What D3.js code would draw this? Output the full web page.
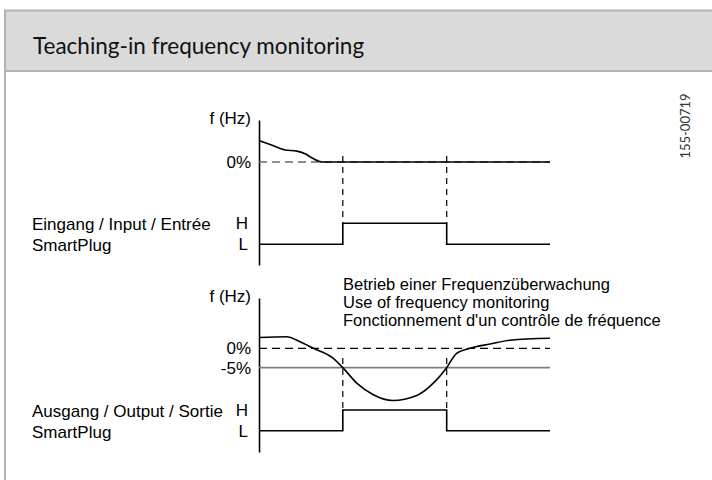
<!DOCTYPE html>
<html><head><meta charset="utf-8">
<script src="https://cdn.jsdelivr.net/npm/d3@7"></script>
<style>body{margin:0;background:#fff}svg{display:block}text{font-family:"Liberation Sans",Arial,sans-serif}</style>
</head><body><svg id="c" width="712" height="480"></svg>
<script>
// ---- data ----
const title = "Teaching-in frequency monitoring";
const docId = "155-00719";
const timeDomain = [0, 100];
const switchOn = 28.8, switchOff = 64.5;
const inputCurveT = [0, 3.8, 8.9, 13, 15.8, 18.1, 20.4, 21.8, 100];
const inputCurveV = [5.5, 4.5, 3.1, 2.8, 2.1, 1.1, 0.25, 0, 0];
const outputCurveT = [0, 9.5, 14.1, 18.7, 25.0, 28.8, 33.6, 39.3, 45.9, 54.2, 59.9, 64.5, 67.9, 72.5, 79.4, 86.3, 100];
const outputCurveV = [2.8, 3.0, 1.7, 0, -2.3, -5.0, -9.0, -12.0, -13.5, -12.2, -9.0, -5.0, -1.3, 0, 1.1, 2.1, 2.6];
const levelLabels = ["H", "L"];
const inputSignalT = [0, switchOn, switchOn, switchOff, switchOff, 100];
const inputSignalL = ["L", "L", "H", "H", "L", "L"];
const outputSignalL = ["L", "L", "H", "H", "L", "L"];
const topTicks = [0];
const bottomTicks = [0, -5];
const inputLabel = ["Eingang / Input / Entrée", "SmartPlug"];
const outputLabel = ["Ausgang / Output / Sortie", "SmartPlug"];
const noteLines = ["Betrieb einer Frequenzüberwachung", "Use of frequency monitoring", "Fonctionnement d'un contrôle de fréquence"];

const FS = 17;
const svg = d3.select("#c");
// frame
svg.append("rect").attr("x", 5).attr("y", 10).attr("width", 720).attr("height", 61).attr("fill", "#dadada");
svg.append("line").attr("x1", 4).attr("x2", 712).attr("y1", 10.5).attr("y2", 10.5).attr("stroke", "#b3b3b3").attr("stroke-width", 2);
svg.append("line").attr("x1", 4).attr("x2", 712).attr("y1", 71).attr("y2", 71).attr("stroke", "#b3b3b3").attr("stroke-width", 2);
svg.append("line").attr("x1", 5).attr("x2", 5).attr("y1", 10).attr("y2", 480).attr("stroke", "#b3b3b3").attr("stroke-width", 2);
svg.append("text").attr("x", 33).attr("y", 54).attr("font-size", 22.5).style("font-family", "Lato, 'Open Sans', sans-serif").attr("fill", "#111").text(title);
svg.append("text").attr("transform", "translate(690,126) rotate(-90)").attr("text-anchor", "middle").attr("font-size", 13).style("font-family", "Lato, sans-serif").attr("fill", "#333").text(docId);

const x = d3.scaleLinear().domain(timeDomain).range([259, 550]);

function panel(cfg) {
  const g = svg.append("g");
  const yF = d3.scaleLinear().domain(cfg.fDomain).range(cfg.fRange);
  const yS = d3.scalePoint().domain(levelLabels).range(cfg.sRange);
  // axis line
  const ax = g.append("g").attr("transform", "translate(259,0)").call(d3.axisLeft(yF).tickValues([]).tickSizeOuter(0));
  ax.select(".domain").attr("stroke", "#000").attr("stroke-width", 1.6);
  // frequency ticks labels
  const fa = g.append("g").attr("transform", "translate(259,0)").call(d3.axisLeft(yF).tickValues(cfg.ticks).tickSize(0).tickPadding(8).tickFormat(d => d + "%"));
  fa.select(".domain").remove();
  fa.selectAll("text").attr("font-size", FS).style("font-family", "'Liberation Sans',Arial,sans-serif").attr("fill", "#000");
  // level labels
  const la = g.append("g").attr("transform", "translate(259,0)").call(d3.axisLeft(yS).tickSize(0).tickPadding(11));
  la.select(".domain").remove();
  la.selectAll("text").attr("font-size", FS).style("font-family", "'Liberation Sans',Arial,sans-serif").attr("fill", "#000");
  // f (Hz)
  g.append("text").attr("x", 251).attr("y", cfg.fRange[1] + 4).attr("text-anchor", "end").attr("font-size", FS).text("f (Hz)");
  // side label
  g.selectAll(".side").data(cfg.side).join("text").attr("x", 32).attr("y", (d, i) => yS(levelLabels[i]) + 7).attr("font-size", FS).text(d => d);
  // reference lines
  if (cfg.minus5) {
    g.append("line").attr("x1", x(timeDomain[0])).attr("x2", x(timeDomain[1])).attr("y1", yF(-5)).attr("y2", yF(-5)).attr("stroke", "#808080").attr("stroke-width", 1.8);
  }
  g.append("line").attr("x1", x(timeDomain[0])).attr("x2", x(timeDomain[1])).attr("y1", yF(0)).attr("y2", yF(0)).attr("stroke", cfg.zeroColor).attr("stroke-width", 1.3).attr("stroke-dasharray", "8,5");
  // vertical dashed markers
  g.selectAll(".vm").data([switchOn, switchOff]).join("line").attr("x1", d => x(d)).attr("x2", d => x(d)).attr("y1", cfg.markTop).attr("y2", yS("H")).attr("stroke", "#000").attr("stroke-width", 1.2).attr("stroke-dasharray", "6,5");
  // curve
  const pts = cfg.ct.map((t, i) => [x(t), yF(cfg.cv[i])]);
  g.append("path").attr("d", d3.line().curve(d3.curveMonotoneX)(pts)).attr("fill", "none").attr("stroke", "#000").attr("stroke-width", 1.6);
  // signal
  const sp = inputSignalT.map((t, i) => [x(t), yS(cfg.sig[i])]);
  g.append("path").attr("d", d3.line()(sp)).attr("fill", "none").attr("stroke", "#000").attr("stroke-width", 1.6);
}

panel({fDomain: [-26.5, 10.8], fRange: [265, 120], sRange: [223.3, 244.3], ticks: topTicks, side: inputLabel,
  zeroColor: "#6a6a6a", markTop: 156, ct: inputCurveT, cv: inputCurveV, sig: inputSignalL, minus5: false});
panel({fDomain: [-26.8, 13], fRange: [452, 298], sRange: [410, 430.7], ticks: bottomTicks, side: outputLabel,
  zeroColor: "#000", markTop: 358, ct: outputCurveT, cv: outputCurveV, sig: outputSignalL, minus5: true});

svg.append("g").selectAll("text").data(noteLines).join("text").attr("x", 343).attr("y", (d, i) => 290 + i * 18).attr("font-size", 16.5).text(d => d);
</script></body></html>
